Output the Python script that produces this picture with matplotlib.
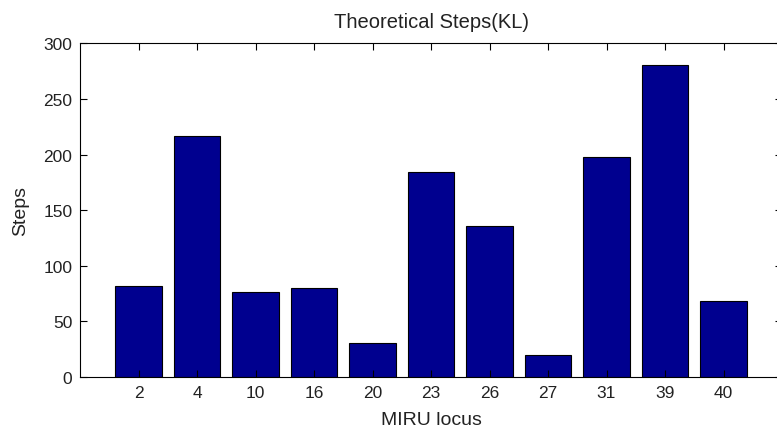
import matplotlib
matplotlib.use('Agg')
import matplotlib.pyplot as plt
import numpy as np

# MIRU loci and theoretical steps
loci = ['2', '4', '10', '16', '20', '23', '26', '27', '31', '39', '40']
steps = [82, 217, 76, 80, 31, 184, 136, 20, 198, 281, 68]

plt.rcParams['font.family'] = ['Liberation Sans', 'DejaVu Sans']

fig = plt.figure(figsize=(7.77, 4.31), dpi=100)
ax = fig.add_axes([80 / 777, 53 / 431, 702 / 777, 333.6 / 431])

pos = np.arange(1, len(loci) + 1)
ax.bar(pos, steps, width=0.8, color='#00008F', edgecolor='black', linewidth=0.8)

ax.set_xlim(0, len(loci) + 1)
ax.set_ylim(0, 300)
ax.set_xticks(pos)
ax.set_xticklabels(loci)
ax.set_yticks(np.arange(0, 301, 50))

ax.tick_params(direction='in', top=True, right=True, length=5, width=0.8,
               labelsize=12.5, pad=5.5, labelcolor='#222222')
for s in ax.spines.values():
    s.set_linewidth(0.8)

ax.set_title('Theoretical Steps(KL)', fontsize=14.5, pad=12, color='#222222')
ax.set_xlabel('MIRU locus', fontsize=14, labelpad=8, color='#222222')
ax.set_ylabel('Steps', fontsize=14, labelpad=10, color='#222222')

fig.savefig('out.png', dpi=100)
